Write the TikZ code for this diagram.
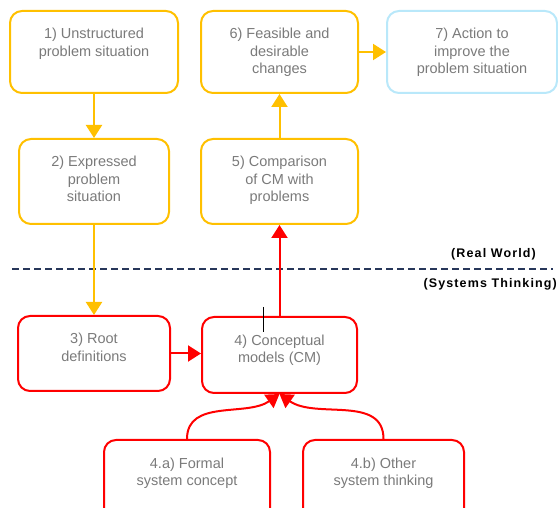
\documentclass[tikz,border=0pt]{standalone}
\usepackage{fontspec}
\usetikzlibrary{arrows.meta}
\newfontfamily\boxfont{Liberation Sans}
\newfontfamily\tagfont{Liberation Sans}[LetterSpace=9]
\definecolor{gold}{RGB}{255,192,0}
\definecolor{softblue}{RGB}{185,232,250}
\definecolor{txtgray}{RGB}{122,122,122}
\definecolor{navy}{RGB}{40,55,90}
\newcommand{\stagetext}[3]{\parbox[c][#2][t]{#1}{\centering\rule{0pt}{28pt}#3}}
\tikzset{
  stage/.style={draw, rounded corners=12pt, line width=2pt, inner sep=0pt,
    anchor=north west, text=txtgray, font=\boxfont\fontsize{14.5}{17.3}\selectfont},
  flow/.style={line width=2pt, -{Triangle[length=13pt,width=16pt]}},
  worldtag/.style={anchor=east, inner sep=0pt, font=\tagfont\bfseries\fontsize{12.5}{14}\selectfont}
}
\begin{document}
\begin{tikzpicture}[x=1pt,y=-1pt]
   \useasboundingbox (0,0) rectangle (558,508);
   % Real World, Kaesten
   \node[stage,draw=gold] (b1) at (9,10) {\stagetext{168pt}{82pt}{1) Unstructured\\problem situation}};
   \node[stage,draw=gold] (b6) at (200,10) {\stagetext{157pt}{82pt}{6) Feasible and\\desirable\\changes}};
   \node[stage,draw=softblue] (b7) at (386,10) {\stagetext{170pt}{82pt}{7) Action to\\improve the\\problem situation}};
   \node[stage,draw=gold] (b2) at (18,138) {\stagetext{150pt}{85pt}{2) Expressed\\problem\\situation}};
   \node[stage,draw=gold] (b5) at (200,138) {\stagetext{157pt}{85pt}{5) Comparison\\of CM with\\problems}};
   % Systems Thinking, Kaesten
   \node[stage,draw=red] (b3) at (17,315) {\stagetext{152pt}{75pt}{3) Root\\definitions}};
   \node[stage,draw=red] (b4) at (201,316) {\stagetext{155pt}{76pt}{4) Conceptual\\models (CM)}};
   \node[stage,draw=red] (b4a) at (103,439) {\stagetext{166pt}{85pt}{4.a) Formal\\system concept}};
   \node[stage,draw=red] (b4b) at (302,439) {\stagetext{161pt}{85pt}{4.b) Other\\system thinking}};
   % Trennlinie
   \draw[navy, line width=1.4pt, dash pattern=on 7pt off 4pt] (12,269) -- (553,269);
   \node[worldtag] (rw) at (536,254) {(Real World)};
   \node[worldtag] (st) at (557,284) {(Systems Thinking)};
   % Pfeile
   \draw[flow,gold] (b1) -- (b2);
   \draw[flow,gold] (b2) -- (b3);
   \draw[flow,red] (b3.east) -- (b4.west|-b3.east);
   \draw[flow,red] (b4) -- (b5);
   \draw[flow,gold] (b5) -- (b6);
   \draw[flow,gold] (b6) -- (b7);
   \draw[flow,red] (b4a.north) to[out=90,in=-145] (b4.south);
   \draw[flow,red] (b4b.north) to[out=90,in=-35] (b4.south);
   % Strich
   \draw[black, line width=0.8pt] (263,307) -- (263,332);
\end{tikzpicture}
\end{document}
